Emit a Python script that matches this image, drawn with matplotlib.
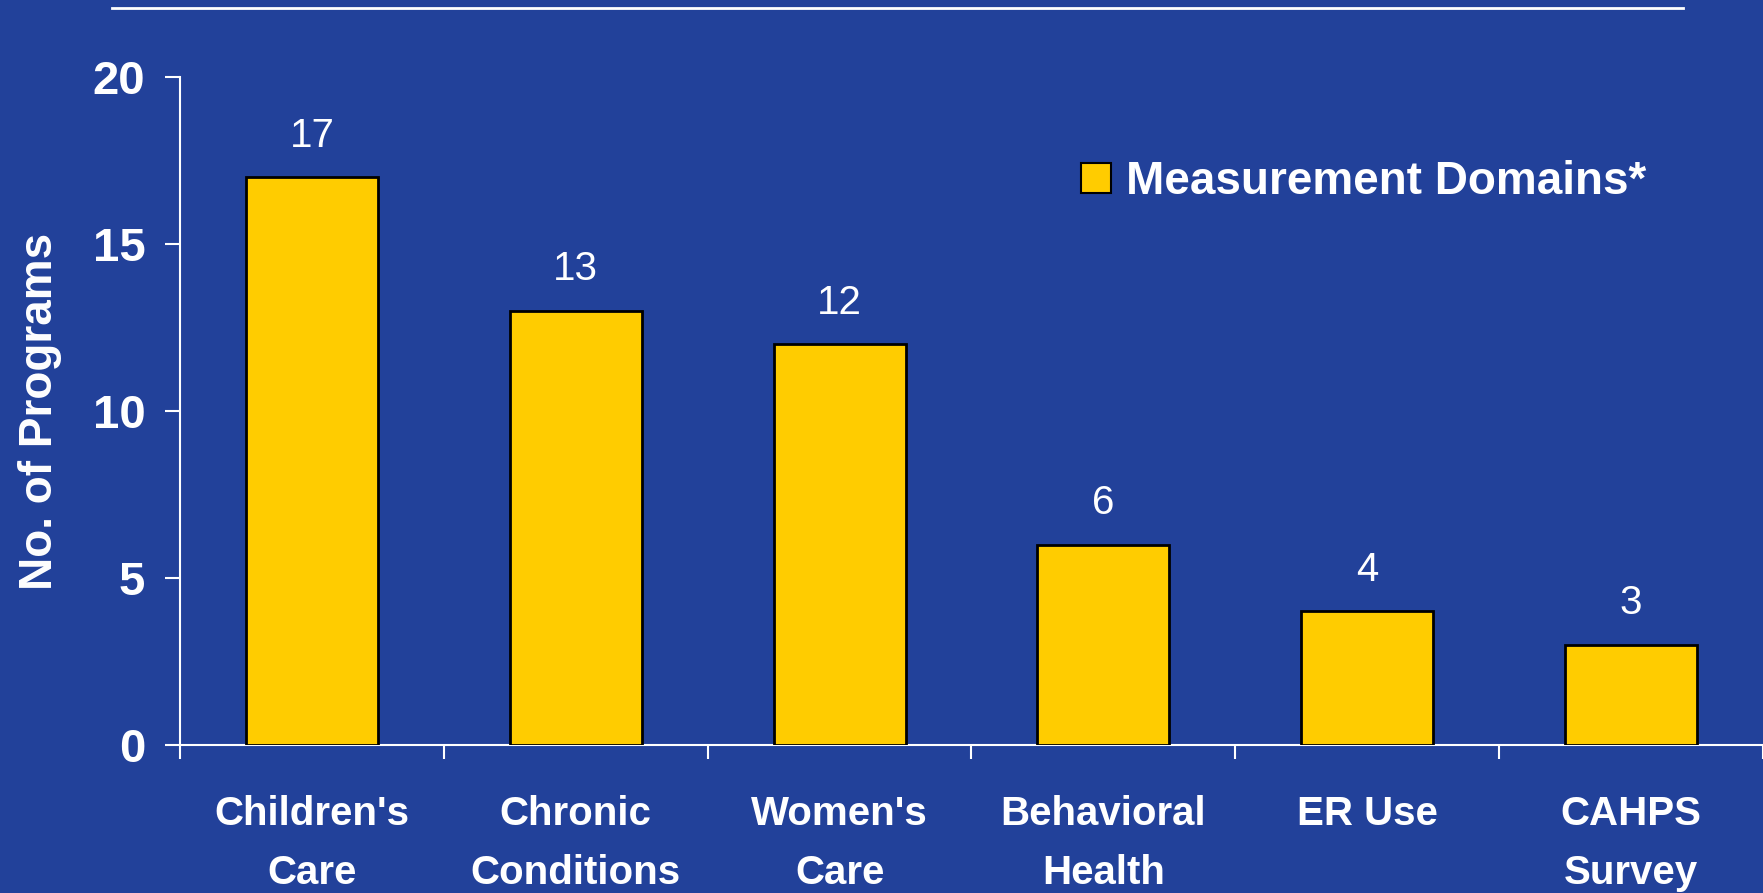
import matplotlib.pyplot as plt
from matplotlib.lines import Line2D

categories = ["Children's\nCare", "Chronic\nConditions", "Women's\nCare",
              "Behavioral\nHealth", "ER Use", "CAHPS\nSurvey"]
programs = [17, 13, 12, 6, 4, 3]
series_name = 'Measurement Domains*'
yticks = [0, 5, 10, 15, 20]

bg = '#22419A'
bar_col = '#FFCC00'
font = 'Liberation Sans'

fig = plt.figure(figsize=(17.63, 8.93), dpi=100, facecolor=bg)
ax = fig.add_axes([180 / 1763, 1 - 745 / 893, 1 - 180 / 1763, (745 - 77) / 893])
ax.set_facecolor(bg)

x = range(len(categories))
ax.bar(x, programs, width=0.5, color=bar_col, edgecolor='black', linewidth=2, zorder=3)
for i, v in enumerate(programs):
    ax.annotate(str(v), (i, v), xytext=(0, 30), textcoords='offset points',
                ha='center', va='center', color='white', fontsize=29, family=font)

ax.set_xlim(-0.5, 5.5)
ax.set_ylim(0, 20)
ax.set_yticks(yticks)
ax.set_xticks([i - 0.5 for i in range(len(categories) + 1)])
ax.set_xticklabels([])
ax.set_xticks(list(x), minor=True)
ax.set_xticklabels(categories, minor=True, fontsize=29, fontweight='bold',
                   family=font, color='white', linespacing=1.7)
ax.tick_params(axis='x', which='minor', length=0, pad=36)
ax.tick_params(axis='x', which='major', length=10, width=1.5, color='white', direction='out')
ax.tick_params(axis='y', length=11, width=1.5, color='white', pad=14,
               labelsize=34, labelcolor='white')
for lab in ax.get_yticklabels():
    lab.set_fontweight('bold')
    lab.set_family(font)

for s in ['top', 'right']:
    ax.spines[s].set_visible(False)
for s in ['left', 'bottom']:
    ax.spines[s].set_color('white')
    ax.spines[s].set_linewidth(1.5)

ax.set_ylabel('No. of Programs', fontsize=33, fontweight='bold', color='white',
              family=font, labelpad=22)

handle = Line2D([], [], marker='s', markersize=21, markerfacecolor=bar_col,
                markeredgecolor='black', markeredgewidth=1.5, linestyle='none')
leg = ax.legend([handle], [series_name], loc='center left',
                bbox_to_anchor=((1080 - 180) / 1583, (745 - 182) / 668),
                frameon=False, borderpad=0, borderaxespad=0, handlelength=0.7,
                handletextpad=0.3, prop={'family': font, 'weight': 'bold', 'size': 33})
for t in leg.get_texts():
    t.set_color('white')

fig.add_artist(Line2D([112 / 1763, 1683 / 1763], [1 - 8 / 893] * 2,
                      transform=fig.transFigure, color='white', linewidth=2))

fig.savefig('out.png', dpi=100, facecolor=bg)
